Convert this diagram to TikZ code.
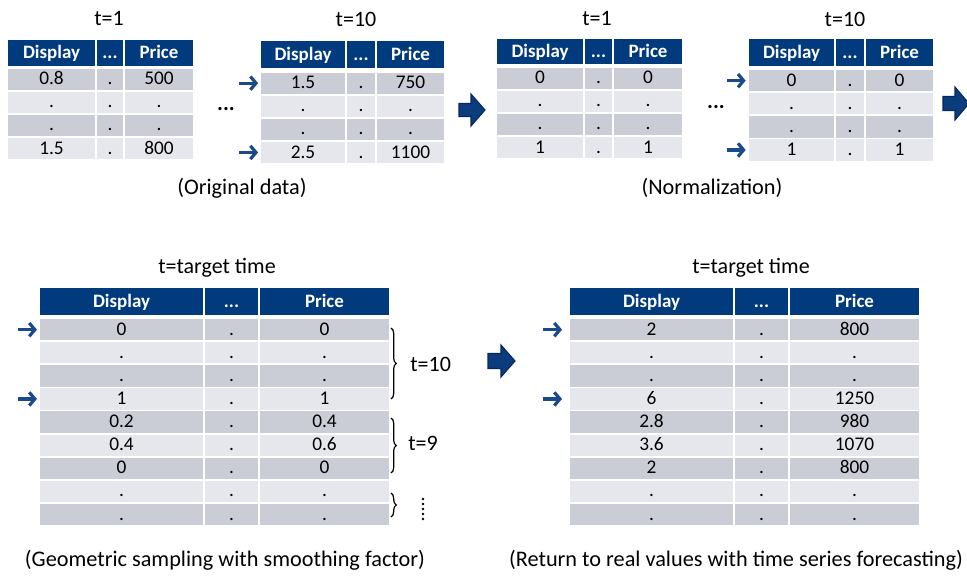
\documentclass[tikz,border=0pt]{standalone}
\usepackage{fontspec}
\setmainfont{Carlito}
\usetikzlibrary{arrows.meta,decorations.pathreplacing}
\definecolor{hdrblue}{HTML}{023A7E}
\definecolor{rowdark}{HTML}{CBCDD6}
\definecolor{rowlight}{HTML}{E6E7EC}
\definecolor{arrblue}{HTML}{1A4A8C}
\definecolor{bigfill}{HTML}{0B3C7E}
\definecolor{bigline}{HTML}{06285A}

\newcommand\rowpitch{23.1}
\newcommand\rowh{21.3}

\tikzset{
  cellbox/.style={inner sep=0pt, outer sep=0pt, text height=10.2pt, text depth=1.8pt,
    font=\fontsize{14.5}{16}\selectfont, anchor=center},
  hdrbox/.style={cellbox, fill=hdrblue, text=white, font=\fontsize{14.2}{16}\selectfont\bfseries},
  titletext/.style={inner sep=0pt, font=\fontsize{16.5}{19}\selectfont},
  captext/.style={inner sep=0pt, font=\fontsize{16.7}{19}\selectfont},
  gapdots/.style={inner sep=0pt, font=\fontsize{16.5}{19}\selectfont\bfseries},
  smallarr/.style={draw=arrblue, line width=2.4pt, -{Straight Barb[length=4.2pt,width=10pt]}},
  bigarr/.style={fill=bigfill, draw=bigline, line width=0.8pt, line join=miter},
  brc/.style={decorate, decoration={brace, amplitude=4pt}, line width=0.9pt, draw=black}
}

\newcommand\tcell[7]{\node[#6, minimum width={((#3)-(#2))*0.75pt}, minimum height={((#5)-(#4))*0.75pt}] (#1) at ({((#2)+(#3))/2},{((#4)+(#5))/2}) {#7};}

\newcommand\DataTable[9]{%
  \tcell{#1-h1}{#2}{#3-1}{#6}{#7}{hdrbox}{Display}%
  \tcell{#1-h2}{#3+1}{#4-1}{#6}{#7}{hdrbox}{...}%
  \tcell{#1-h3}{#4+1}{#5}{#6}{#7}{hdrbox}{Price}%
  \foreach[count=\i] \pa/\pb/\pc in {#9}{%
    \pgfmathsetmacro\yt{#8+(\i-1)*\rowpitch}%
    \pgfmathsetmacro\yb{\yt+\rowh}%
    \ifodd\i \def\rc{rowdark}\else\def\rc{rowlight}\fi
    \tcell{#1-\i-a}{#2}{#3-1}{\yt}{\yb}{cellbox,fill=\rc}{\pa}%
    \tcell{#1-\i-b}{#3+1}{#4-1}{\yt}{\yb}{cellbox,fill=\rc}{\pb}%
    \tcell{#1-\i-c}{#4+1}{#5}{\yt}{\yb}{cellbox,fill=\rc}{\pc}%
  }%
}

\newcommand\BigArrow[6]{%
  \draw[bigarr] (#1,{#4-#5}) -- (#2,{#4-#5}) -- (#2,{#4-#6}) -- (#3,#4) -- (#2,{#4+#6}) -- (#2,{#4+#5}) -- (#1,{#4+#5}) -- cycle;}

\begin{document}
\begin{tikzpicture}[x=0.75pt,y=-0.75pt]
\clip (0,0) rectangle (967,575);
\fill[white] (0,0) rectangle (967,575);

% ---------- top row tables ----------
\DataTable{A}{8}{96}{124}{193}{40}{66}{68.5}{0.8/./500, ./././, ./././, 1.5/./800}
\DataTable{B}{261}{346}{376}{444}{41}{68}{72.5}{1.5/./750, ./././, ./././, 2.5/./1100}
\DataTable{C}{497}{584}{613}{682}{39}{64}{67.5}{0/./0, ./././, ./././, 1/./1}
\DataTable{D}{749}{835}{865}{933}{39}{66}{70}{0/./0, ./././, ./././, 1/./1}

\node[titletext] (tA) at (109,19) {t=1};
\node[titletext] (tB) at (356,19) {t=10};
\node[titletext] (tC) at (597,19) {t=1};
\node[titletext] (tD) at (845,19) {t=10};

\node[gapdots] (gAB) at (226,109) {...};
\node[gapdots] (gCD) at (716,107) {...};

\node[captext] (capA) at (242,188) {(Original data)};
\node[captext] (capB) at (712,188) {(Normalization)};

% small arrows, top
\coordinate (pB1) at ([xshift=-16.5pt]B-1-a.west);
\coordinate (pB4) at ([xshift=-16.5pt]B-4-a.west);
\draw[smallarr, shorten >=2.2pt] (pB1) -- (B-1-a.west);
\draw[smallarr, shorten >=2.2pt] (pB4) -- (B-4-a.west);
\coordinate (pD1) at ([xshift=-16.5pt]D-1-a.west);
\coordinate (pD4) at ([xshift=-16.5pt]D-4-a.west);
\draw[smallarr, shorten >=2.5pt] (pD1) -- (D-1-a.west);
\draw[smallarr, shorten >=2.5pt] (pD4) -- (D-4-a.west);

% big arrows
\BigArrow{459}{471}{485}{110}{6.5}{16}
\BigArrow{943}{955}{969}{103.5}{7}{16.5}
\BigArrow{488}{501}{515}{361}{7.5}{16}

% ---------- bottom tables ----------
\DataTable{E}{40}{204}{259}{389}{288}{315}{319}{0/./0, ./././, ./././, 1/./1, 0.2/./0.4, 0.4/./0.6, 0/./0, ./././, ./././}
\DataTable{F}{570}{734}{789}{919}{288}{315}{319}{2/./800, ./././, ./././, 6/./1250, 2.8/./980, 3.6/./1070, 2/./800, ./././, ./././}

\node[titletext] (tE) at (217,268) {t=target time};
\node[titletext] (tF) at (751,268) {t=target time};

\coordinate (pE1) at ([xshift=-16.5pt]E-1-a.west);
\coordinate (pE4) at ([xshift=-16.5pt]E-4-a.west);
\draw[smallarr, shorten >=2.3pt] (pE1) -- (E-1-a.west);
\draw[smallarr, shorten >=2.3pt] (pE4) -- (E-4-a.west);
\coordinate (pF1) at ([xshift=-20.3pt]F-1-a.west);
\coordinate (pF4) at ([xshift=-20.3pt]F-4-a.west);
\draw[smallarr, shorten >=6pt] (pF1) -- (F-1-a.west);
\draw[smallarr, shorten >=6pt] (pF4) -- (F-4-a.west);

% braces
\coordinate (b1t) at (391,328);
\coordinate (b1b) at (391,399);
\coordinate (b2t) at (391,418);
\coordinate (b2b) at (391,473);
\coordinate (b3t) at (391,493);
\coordinate (b3b) at (391,517);
\draw[brc] (b1t) -- (b1b);
\draw[brc] (b2t) -- (b2b);
\draw[brc] (b3t) -- (b3b);
\node[titletext, anchor=west] (l10) at (410,364) {t=10};
\node[titletext, anchor=west] (l9) at (408,443) {t=9};
\foreach \k in {0,...,4} \fill (423,{499+5*\k}) circle (1.05pt);

\node[captext] (capE) at (225,560) {(Geometric sampling with smoothing factor)};
\node[captext] (capF) at (736,560) {(Return to real values with time series forecasting)};
\end{tikzpicture}
\end{document}
